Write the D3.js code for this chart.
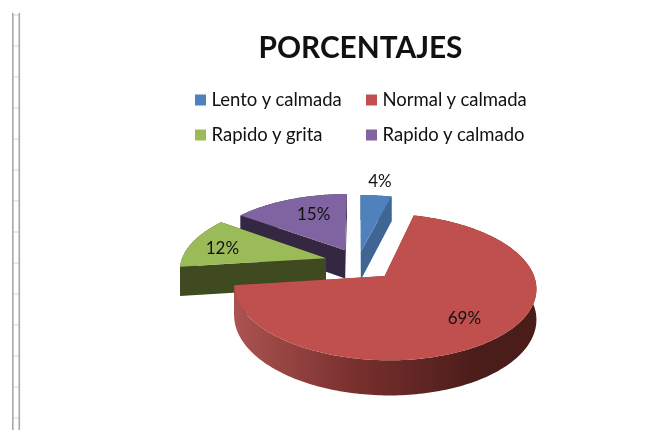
<!DOCTYPE html>
<meta charset="utf-8">
<style>
    body { margin: 0; background: #fff; }
    svg { filter: blur(0.4px); }
    text { font-family: Lato, "Open Sans", sans-serif; fill: #111; }
</style>
<script src="https://d3js.org/d3.v7.min.js"></script>
<body>
<script>

    var title = "PORCENTAJES"
    var categories = ["Lento y calmada", "Normal y calmada", "Rapido y grita", "Rapido y calmado"]
    var values = [4, 69, 12, 15]

    // how far each slice is pulled out, and where its label sits (in pie radii, degrees off the middle)
    var explode = [0.16, 0.27, 0.23, 0.2]
    var labelRadius = [1.3, 0.72, 0.76, 0.67]
    var labelTurn = [0, 0, -2, 5]

    var colors = ["#4f81bd", "#c0504d", "#9bbb59", "#8064a2"]
    var sideColors = ["#3e6593", "#7d3331", "#3f4a21", "#332742"]

    var width = 665, height = 430

    // perspective of the pie plane
    var cx = 358, cy = 262, rx = 145, ry = 67.5, persp = 0.145, depth = 29

    var svg = d3.select("body").append("svg")
        .attr("width", width)
        .attr("height", height)
        .style("display", "block")

    // the spreadsheet row headers at the left edge
    var rungs = d3.range(14).map(function (i) { return 15 + i * 31 })
    svg.selectAll(".rung").data(rungs).enter().append("line")
        .attr("x1", 13).attr("x2", 19)
        .attr("y1", function (d) { return d }).attr("y2", function (d) { return d })
        .attr("stroke", "#dcdcdc").attr("stroke-width", 1.2)
    svg.selectAll(".rail").data([12.8, 19.3]).enter().append("line")
        .attr("x1", function (d) { return d }).attr("x2", function (d) { return d })
        .attr("y1", 13).attr("y2", height)
        .attr("stroke", "#a8a8a8").attr("stroke-width", 1.6)

    svg.append("text")
        .text(title)
        .attr("x", 360.5)
        .attr("y", 58)
        .attr("text-anchor", "middle")
        .attr("font-weight", 700)
        .attr("font-size", "29.8px")

    // legend, two by two
    var legendX = [195, 366], legendY = [100, 135]
    var legend = svg.selectAll(".legend").data(categories).enter().append("g")
        .attr("transform", function (d, i) {
            return "translate(" + legendX[i % 2] + "," + legendY[Math.floor(i / 2)] + ")"
        })
    legend.append("rect")
        .attr("y", -5.5).attr("width", 11).attr("height", 11)
        .attr("fill", function (d, i) { return colors[i] })
    legend.append("text")
        .text(function (d) { return d })
        .attr("x", 16.5)
        .attr("y", 6)
        .attr("font-size", "18.5px")

    var defs = svg.append("defs")
    var grad = defs.append("linearGradient")
        .attr("id", "redSide")
        .attr("gradientUnits", "userSpaceOnUse")
        .attr("x1", 236).attr("x2", 480).attr("y1", 0).attr("y2", 0)
    grad.append("stop").attr("offset", 0).attr("stop-color", "#aa5350")
    grad.append("stop").attr("offset", 0.5).attr("stop-color", "#772f2d")
    grad.append("stop").attr("offset", 1).attr("stop-color", "#4a1c1a")

    var slices = d3.pie().sort(null).value(function (d) { return d })(values)

    // plane point (u, v) lifted by h, v pointing to the viewer
    function project(u, v, h) {
        var d = 1 - persp * v
        return [cx + rx * u / d, cy + (ry * v + h) / d]
    }

    function planePoint(angle, r, i, h) {
        var mid = (slices[i].startAngle + slices[i].endAngle) / 2
        return project(
            r * Math.sin(angle) + explode[i] * Math.sin(mid),
            -r * Math.cos(angle) + explode[i] * -Math.cos(mid),
            h)
    }

    function rim(i, h) {
        var a0 = slices[i].startAngle, a1 = slices[i].endAngle
        var n = Math.ceil((a1 - a0) / 0.02)
        return d3.range(n + 1).map(function (k) {
            return planePoint(a0 + (a1 - a0) * k / n, 1, i, h)
        })
    }

    var line = d3.line().curve(d3.curveLinearClosed)

    // back slices first, the big red one goes on top
    var order = [3, 0, 2, 1]
    order.forEach(function (i) {
        var g = svg.append("g")
        var side = i == 1 ? "url(#redSide)" : sideColors[i]
        var apexTop = planePoint(0, 0, i, 0), apexBottom = planePoint(0, 0, i, depth)

        // cut faces
        ;[slices[i].startAngle, slices[i].endAngle].forEach(function (a) {
            g.append("path")
                .attr("d", line([apexTop, planePoint(a, 1, i, 0), planePoint(a, 1, i, depth), apexBottom]))
                .attr("fill", sideColors[i])
        })
        // outer wall
        g.append("path")
            .attr("d", line(rim(i, 0).concat(rim(i, depth).reverse())))
            .attr("fill", side)
        // top face
        g.append("path")
            .attr("d", line([apexTop].concat(rim(i, 0))))
            .attr("fill", colors[i])
    })

    svg.selectAll(".pct").data(slices).enter().append("text")
        .text(function (d) { return d.data + "%" })
        .attr("transform", function (d, i) {
            var mid = (d.startAngle + d.endAngle) / 2 + labelTurn[i] * Math.PI / 180
            var p = planePoint(mid, labelRadius[i], i, 0)
            return "translate(" + p[0] + "," + p[1] + ")"
        })
        .attr("text-anchor", "middle")
        .attr("dy", "0.36em")
        .attr("font-size", "17px")

</script>
</body>
